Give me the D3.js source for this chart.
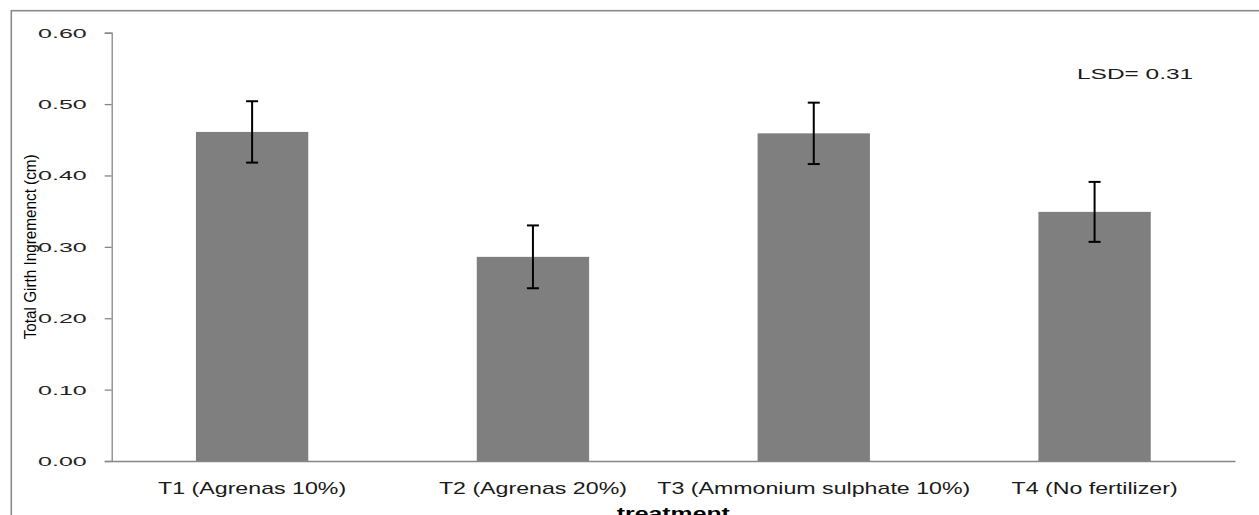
<!DOCTYPE html>
<html>
<head>
<meta charset="utf-8">
<script src="https://d3js.org/d3.v7.min.js"></script>
<style>
	body { margin: 0; background: #fff; overflow: hidden; }
	svg { display: block; }
</style>
</head>
<body>
<div class="viz"></div>
<script>
	// Data
	var treatments = ['T1 (Agrenas 10%)', 'T2 (Agrenas 20%)', 'T3 (Ammonium sulphate 10%)', 'T4 (No fertilizer)'];
	var girthValues = [0.461, 0.286, 0.459, 0.349];
	var girthErrors = [0.043, 0.044, 0.043, 0.042];
	var yTicks = [0, 0.1, 0.2, 0.3, 0.4, 0.5, 0.6];
	var lsdText = 'LSD= 0.31';

	var data = treatments.map(function(t, i){
		return {treatment: t, value: girthValues[i], err: girthErrors[i]};
	});

	// Defining SVG
	var W = 1259, H = 515;
	var margin = {top: 32.7, right: 24, bottom: 54, left: 111.7};
	var width = W - margin.left - margin.right;
	var height = H - margin.top - margin.bottom;

	var root = d3.select('.viz')
		.append('svg')
		.attr('width', W)
		.attr('height', H);

	// outer chart frame (runs off the right and bottom edge)
	root.append('rect')
		.attr('x', 11.3)
		.attr('y', 10.7)
		.attr('width', W + 20)
		.attr('height', H + 20)
		.attr('fill', 'none')
		.attr('stroke', '#8a8a8a')
		.attr('stroke-width', 1.6);

	var svg = root.append('g')
		.attr('transform', 'translate(' + margin.left + ',' + margin.top + ')');

	// Defining Scales
	var xScale = d3.scaleBand()
		.domain(treatments)
		.range([0, width])
		.paddingInner(0.6)
		.paddingOuter(0.3);

	var yScale = d3.scaleLinear()
		.domain([0, 0.6])
		.range([height, 0]);

	var axisColor = '#868686';
	var font = '"Liberation Sans", Arial, sans-serif';

	// y axis
	var yAxis = d3.axisLeft(yScale)
		.tickValues(yTicks)
		.tickSize(7)
		.tickPadding(0)
		.tickFormat(d3.format('.2f'));

	var gy = svg.append('g')
		.attr('class', 'y axis')
		.call(yAxis);

	gy.select('.domain').attr('stroke', axisColor).attr('stroke-width', 1.3);
	gy.selectAll('.tick line').attr('stroke', axisColor).attr('stroke-width', 1.3);
	gy.selectAll('.tick text')
		.attr('x', null)
		.attr('dy', null)
		.attr('transform', 'translate(-25,4.5) scale(2,1)')
		.attr('text-anchor', 'end')
		.style('font-family', font)
		.style('font-size', '12.5px')
		.attr('fill', '#222');

	// x axis
	var xAxis = d3.axisBottom(xScale)
		.tickSize(0)
		.tickPadding(0);

	var gx = svg.append('g')
		.attr('class', 'x axis')
		.attr('transform', 'translate(0,' + height + ')')
		.call(xAxis);

	gx.select('.domain').attr('stroke', axisColor).attr('stroke-width', 1.3);
	gx.selectAll('.tick text')
		.attr('y', null)
		.attr('dy', null)
		.attr('transform', 'translate(0,32.5) scale(1.45,1)')
		.style('font-family', font)
		.style('font-size', '16px')
		.attr('fill', '#1a1a1a');

	// bars
	svg.selectAll('.bar')
		.data(data)
		.enter().append('rect')
		.attr('class', 'bar')
		.attr('x', function(d){ return xScale(d.treatment); })
		.attr('width', xScale.bandwidth())
		.attr('y', function(d){ return yScale(d.value); })
		.attr('height', function(d){ return height - yScale(d.value); })
		.attr('fill', '#7f7f7f');

	// error bars
	var capW = 6;
	var eb = svg.selectAll('.err')
		.data(data)
		.enter().append('g')
		.attr('class', 'err')
		.attr('stroke', '#000')
		.attr('stroke-width', 2);

	eb.append('line')
		.attr('x1', function(d){ return xScale(d.treatment) + xScale.bandwidth() / 2; })
		.attr('x2', function(d){ return xScale(d.treatment) + xScale.bandwidth() / 2; })
		.attr('y1', function(d){ return yScale(d.value + d.err); })
		.attr('y2', function(d){ return yScale(d.value - d.err); });

	eb.selectAll('.cap')
		.data(function(d){ return [d.value + d.err, d.value - d.err].map(function(v){ return {t: d.treatment, v: v}; }); })
		.enter().append('line')
		.attr('class', 'cap')
		.attr('x1', function(d){ return xScale(d.t) + xScale.bandwidth() / 2 - capW; })
		.attr('x2', function(d){ return xScale(d.t) + xScale.bandwidth() / 2 + capW; })
		.attr('y1', function(d){ return yScale(d.v); })
		.attr('y2', function(d){ return yScale(d.v); });

	// LSD note
	svg.append('text')
		.attr('transform', 'translate(' + (width - 158) + ',46.6) scale(1.63,1)')
		.style('font-family', font)
		.style('font-size', '15px')
		.attr('fill', '#1a1a1a')
		.text(lsdText);

	// axis labels (rotated, condensed look)
	svg.append('text')
		.attr('transform', 'translate(' + (36 - margin.left) + ',' + yScale(0.3) + ') rotate(-90) scale(1,1.12)')
		.attr('text-anchor', 'middle')
		.attr('textLength', 185)
		.attr('lengthAdjust', 'spacingAndGlyphs')
		.style('font-family', font)
		.style('font-size', '14px')
		.attr('fill', '#000')
		.text('Total Girth Ingremenct (cm)');

	svg.append('text')
		.attr('transform', 'translate(' + (width / 2) + ',' + (height + 58) + ') scale(1.55,1)')
		.attr('text-anchor', 'middle')
		.style('font-family', font)
		.style('font-size', '16px')
		.style('font-weight', 'bold')
		.attr('fill', '#000')
		.text('treatment');
</script>
</body>
</html>
